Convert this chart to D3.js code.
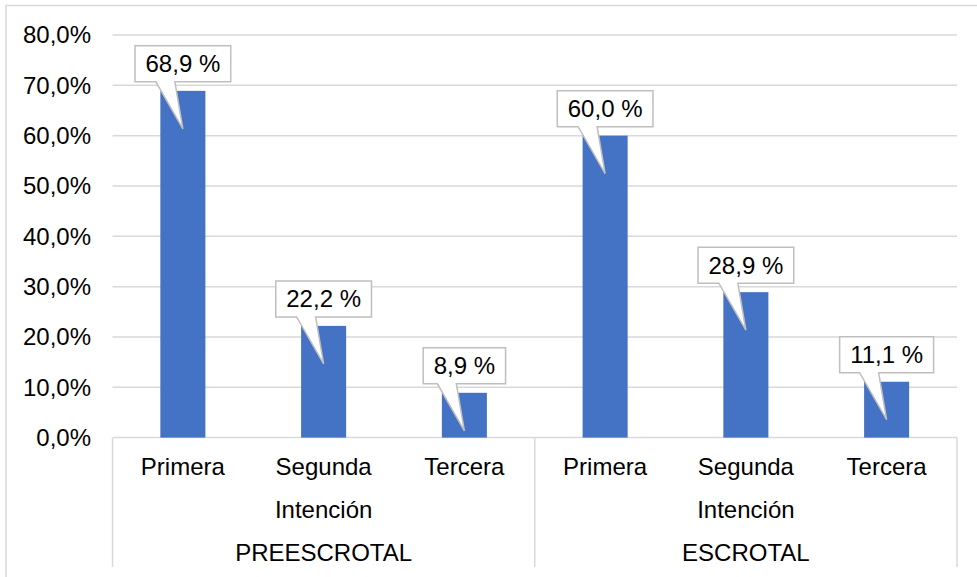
<!DOCTYPE html>
<html>
<head>
<meta charset="utf-8">
<script src="https://cdn.jsdelivr.net/npm/d3@7"></script>
<style>
  html, body { margin: 0; padding: 0; background: #fff; }
  svg { display: block; font-family: "Liberation Sans", Arial, sans-serif; }
</style>
</head>
<body>
<svg id="chart" width="977" height="577"></svg>
<script>
// Data: share of patients by attempt, grouped by surgical approach
const groups = ["PREESCROTAL", "ESCROTAL"];
const categories = ["Primera", "Segunda Intención", "Tercera"];
const preescrotal = [68.9, 22.2, 8.9];
const escrotal = [60.0, 28.9, 11.1];
const yTicks = [0, 10, 20, 30, 40, 50, 60, 70, 80];

const rows = [];
groups.forEach((g, gi) => {
  const vals = gi === 0 ? preescrotal : escrotal;
  categories.forEach((c, ci) => rows.push({ key: g + "|" + c, group: g, cat: c, value: vals[ci] }));
});

const svg = d3.select("#chart");
const fontSize = 24;
const grid = "#d9d9d9";

const plot = { left: 112.5, right: 957, top: 35, bottom: 437.6, axisBottom: 567 };

const x = d3.scaleBand().domain(rows.map(d => d.key)).range([plot.left, plot.right]).padding(0);
const y = d3.scaleLinear().domain([0, 80]).range([plot.bottom, plot.top]);
const barW = x.bandwidth() * 0.32;

// Outer chart frame
svg.append("rect")
  .attr("x", 6).attr("y", 5.5).attr("width", 1000).attr("height", 600)
  .attr("fill", "none").attr("stroke", grid).attr("stroke-width", 1.5);

// Horizontal gridlines
svg.append("g").selectAll("line").data(yTicks).join("line")
  .attr("x1", plot.left).attr("x2", plot.right)
  .attr("y1", d => y(d)).attr("y2", d => y(d))
  .attr("stroke", grid).attr("stroke-width", 1.5);

// Y tick labels
svg.append("g").selectAll("text").data(yTicks).join("text")
  .attr("x", 91).attr("y", d => y(d)).attr("dy", "0.35em")
  .attr("text-anchor", "end").attr("font-size", fontSize).attr("fill", "#000")
  .text(d => d3.format(".1f")(d).replace(".", ",") + "%");

// Group separators on the category axis
const groupEdges = [plot.left, x(rows[3].key), plot.right];
svg.append("g").selectAll("line").data(groupEdges).join("line")
  .attr("x1", d => d).attr("x2", d => d)
  .attr("y1", plot.bottom).attr("y2", plot.axisBottom)
  .attr("stroke", grid).attr("stroke-width", 1.5);

// Bars
svg.append("g").selectAll("rect").data(rows).join("rect")
  .attr("x", d => x(d.key) + (x.bandwidth() - barW) / 2)
  .attr("width", barW)
  .attr("y", d => y(d.value))
  .attr("height", d => y(0) - y(d.value))
  .attr("fill", "#4472c4");

// Category labels (wrapped onto two lines where needed)
const catG = svg.append("g").attr("font-size", fontSize).attr("fill", "#000").attr("text-anchor", "middle");
rows.forEach(d => {
  const cx = x(d.key) + x.bandwidth() / 2;
  const words = d.cat.split(" ");
  words.forEach((w, i) => {
    catG.append("text").attr("x", cx).attr("y", 475 + i * 43).text(w);
  });
});

// Group labels
svg.append("g").selectAll("text").data(groups).join("text")
  .attr("x", (g, i) => (groupEdges[i] + groupEdges[i + 1]) / 2)
  .attr("y", 561).attr("text-anchor", "middle")
  .attr("font-size", fontSize).attr("fill", "#000")
  .text(g => g);

// Callout labels with a pointer into each bar
const fmt = v => d3.format(".1f")(v).replace(".", ",") + " %";
const calloutG = svg.append("g");
rows.forEach(d => {
  const cx = x(d.key) + x.bandwidth() / 2;
  const top = y(d.value);
  const label = calloutG.append("text")
    .attr("font-size", fontSize).attr("fill", "#000").attr("text-anchor", "middle")
    .text(fmt(d.value));
  const tw = label.node().getComputedTextLength();
  const w = tw + 21, h = 36;
  const bx0 = cx - w / 2, bx1 = cx + w / 2;
  const by1 = top - 9, by0 = by1 - h;
  const tipY = top + 38;
  const path = d3.path();
  path.moveTo(bx0, by0);
  path.lineTo(bx1, by0);
  path.lineTo(bx1, by1);
  path.lineTo(cx - 8, by1);
  path.lineTo(cx, tipY);
  path.lineTo(cx - 27, by1);
  path.lineTo(bx0, by1);
  path.closePath();
  calloutG.insert("path", "text")
    .attr("d", path.toString())
    .attr("fill", "#fff").attr("stroke", "#bfbfbf").attr("stroke-width", 1.5)
    .attr("stroke-linejoin", "miter");
  label.attr("x", cx).attr("y", (by0 + by1) / 2).attr("dy", "0.35em").raise();
});
</script>
</body>
</html>
